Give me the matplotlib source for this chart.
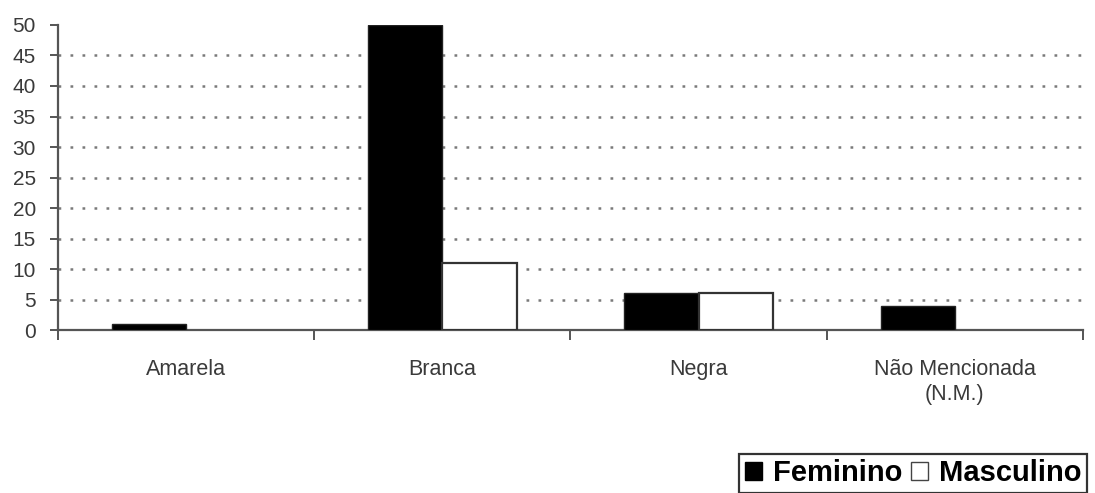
import matplotlib.pyplot as plt
import numpy as np
from matplotlib.patches import Patch

plt.rcParams['font.family'] = ['Liberation Sans', 'DejaVu Sans']

# data
categorias = ['Amarela', 'Branca', 'Negra', 'Não Mencionada\n(N.M.)']
feminino = [1, 50, 6, 4]
masculino = [0, 11, 6, 0]
y_ticks = list(range(0, 55, 5))

fig = plt.figure(figsize=(10.95, 4.93), dpi=100)
ax = fig.add_axes([0.053, 0.3306, 0.936, 0.6187])

x = np.arange(len(categorias)) + 0.5
w = 0.29
# zero-height bars are not drawn at all in the original
fem = np.where(np.array(feminino) == 0, np.nan, feminino)
mas = np.where(np.array(masculino) == 0, np.nan, masculino)
ax.bar(x - w/2, fem, w, color='black', edgecolor='#222222', linewidth=1, zorder=3)
ax.bar(x + w/2, mas, w, color='white', edgecolor='#333333', linewidth=1.6, zorder=3)

ax.set_xlim(0, len(categorias))
ax.set_ylim(0, 50)

# dotted grid, not on the top line
for yv in y_ticks[1:-1]:
    ax.axhline(yv, color='#7a7a7a', linestyle=(0, (1.1, 3.7)), linewidth=1.8, zorder=1)

ax.set_yticks(y_ticks)
ax.set_yticklabels([str(v) for v in y_ticks], fontsize=15, color='#3a3a3a')
ax.tick_params(axis='y', direction='out', length=6, width=1.4, color='#555555', pad=10)

# category boundaries as major ticks, labels as minor ticks
ax.set_xticks(np.arange(len(categorias) + 1))
ax.set_xticklabels([])
ax.tick_params(axis='x', which='major', direction='out', length=7, width=1.4, color='#555555')
ax.set_xticks(x, minor=True)
ax.set_xticklabels(categorias, minor=True, fontsize=15.5, color='#3a3a3a', linespacing=1.25)
ax.tick_params(axis='x', which='minor', length=0, pad=21)

for s in ['top', 'right']:
    ax.spines[s].set_visible(False)
for s in ['left', 'bottom']:
    ax.spines[s].set_color('#555555')
    ax.spines[s].set_linewidth(1.6)

handles = [Patch(facecolor='black', edgecolor='black', label='Feminino'),
           Patch(facecolor='white', edgecolor='#444444', label='Masculino')]
leg = fig.legend(handles=handles, loc='upper left', bbox_to_anchor=(0.675, 0.08),
                 ncol=2, frameon=True, fancybox=False, edgecolor='black',
                 prop={'weight': 'bold', 'size': 21}, handlelength=0.6, handleheight=0.6,
                 handletextpad=0.35, columnspacing=0.3, borderpad=0.2, borderaxespad=0)
leg.get_frame().set_linewidth(1.6)

fig.savefig('out.png', dpi=100)
